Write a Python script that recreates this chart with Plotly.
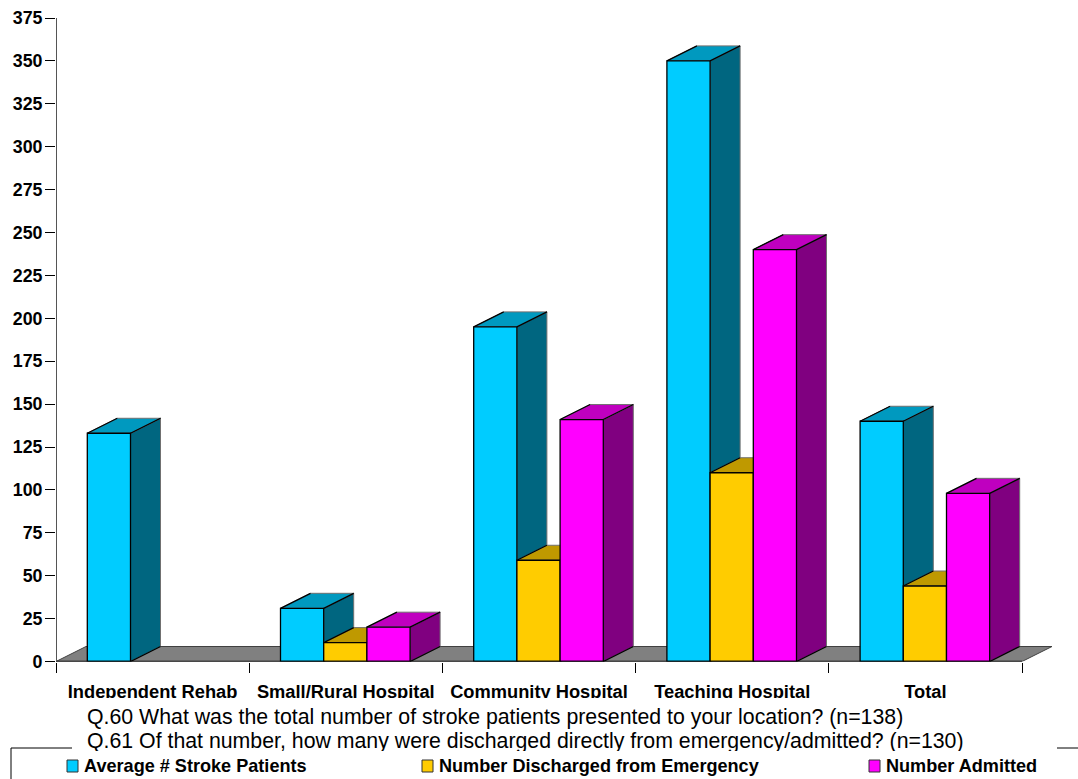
import plotly.graph_objects as go

# Survey results: stroke patients by facility type
categories = ["Independent Rehab", "Small/Rural Hospital", "Community Hospital", "Teaching Hospital", "Total"]
avg_stroke_patients = [133, 31, 195, 350, 140]
discharged_from_er = [None, 11, 59, 110, 44]
admitted = [None, 20, 141, 240, 98]
y_ticks = list(range(0, 376, 25))
series_names = ["Average # Stroke Patients", "Number Discharged from Emergency", "Number Admitted"]
footnotes = [
    "Q.60 What was the total number of stroke patients presented to your location? (n=138)",
    "Q.61 Of that number, how many were discharged directly from emergency/admitted? (n=130)",
]

W, H = 1078, 779
FONT = "Liberation Sans, Arial, sans-serif"

# Axis frame in page pixels
X_LEFT, X_RIGHT = 56, 1052
Y_ZERO, Y_TOP = 661.5, 18
CAT_PX = 193.2

# Bar geometry in axis units
BAR_W = 0.2236
CLUSTER_START = 0.162
DEPTH_X = 30 / CAT_PX
DEPTH_Y = 15 / ((Y_ZERO - Y_TOP) / 375)

palettes = [
    dict(front="#00CCFF", top="#0099BF", side="#006680"),
    dict(front="#FFCC00", top="#BF9900", side="#806600"),
    dict(front="#FF00FF", top="#BF00BF", side="#800080"),
]
series_values = [avg_stroke_patients, discharged_from_er, admitted]
n = len(categories)

fig = go.Figure()


def polygons(rings):
    xs, ys = [], []
    for ring in rings:
        xs += [p[0] for p in ring] + [ring[0][0], None]
        ys += [p[1] for p in ring] + [ring[0][1], None]
    return xs, ys


# Floor slab behind the columns
floor_x, floor_y = polygons([[(0, 0), (n, 0), (n + DEPTH_X, DEPTH_Y), (DEPTH_X, DEPTH_Y)]])
fig.add_trace(go.Scatter(x=floor_x, y=floor_y, mode="lines", fill="toself", fillcolor="#808080",
                         line=dict(color="#404040", width=1), hoverinfo="skip", zorder=1))

for s, (name, vals, pal) in enumerate(zip(series_names, series_values, palettes)):
    z = 2 * s + 2
    sides, tops, edges_x, edges_y = [], [], [], []
    for i, v in enumerate(vals):
        if v is None:
            continue
        x0 = i + CLUSTER_START + s * BAR_W
        x1 = x0 + BAR_W
        sides.append([(x1, 0), (x1 + DEPTH_X, DEPTH_Y), (x1 + DEPTH_X, v + DEPTH_Y), (x1, v)])
        tops.append([(x0, v), (x1, v), (x1 + DEPTH_X, v + DEPTH_Y), (x0 + DEPTH_X, v + DEPTH_Y)])
        edges_x += [x0, x0 + DEPTH_X, None, x1, x1 + DEPTH_X, None, x1, x1 + DEPTH_X, None]
        edges_y += [v, v + DEPTH_Y, None, v, v + DEPTH_Y, None, 0, DEPTH_Y, None]
    for rings, color in ((sides, pal["side"]), (tops, pal["top"])):
        px, py = polygons(rings)
        fig.add_trace(go.Scatter(x=px, y=py, mode="lines", fill="toself", fillcolor=color,
                                 line=dict(color="#707070", width=1), hoverinfo="skip", zorder=z))
    fig.add_trace(go.Scatter(x=edges_x, y=edges_y, mode="lines", line=dict(color="black", width=1.3),
                             hoverinfo="skip", zorder=z))
    fig.add_trace(go.Bar(
        x=[i + 0.5 for i in range(n)], y=vals, name=name, width=BAR_W,
        offset=CLUSTER_START - 0.5 + s * BAR_W,
        marker=dict(color=pal["front"], line=dict(color="black", width=1.3)), zorder=z + 1,
    ))

# Base line along the front of the floor, and the value axis spine
fig.add_trace(go.Scatter(x=[0, n], y=[0, 0], mode="lines", line=dict(color="black", width=1.6),
                         hoverinfo="skip", zorder=10, cliponaxis=False))
fig.add_trace(go.Scatter(x=[0, 0], y=[0, 375], mode="lines", line=dict(color="#555555", width=2),
                         hoverinfo="skip", zorder=10, cliponaxis=False))

# Footnote lines sit in a full-page pixel subplot so the masks below can trim them
fig.add_trace(go.Scatter(x=[87, 87], y=[718.5, 742.5], mode="text", text=footnotes, textposition="middle right",
                         textfont=dict(family=FONT, size=21.3, color="black"), xaxis="x2", yaxis="y2",
                         hoverinfo="skip", cliponaxis=False))

label_font = dict(family=FONT, size=18.3, color="black", weight="bold")
tick_font = dict(family=FONT, size=17.8, color="black", weight="bold")
legend_font = dict(family=FONT, size=18.1, color="black", weight="bold")

shapes = []


def px_rect(x0, y0, x1, y1, **kw):
    return dict(type="rect", xref="paper", yref="paper", x0=x0 / W, x1=x1 / W,
                y0=1 - y0 / H, y1=1 - y1 / H, layer="above", **kw)


def px_line(x0, y0, x1, y1):
    return dict(type="line", xref="paper", yref="paper", x0=x0 / W, x1=x1 / W,
                y0=1 - y0 / H, y1=1 - y1 / H, layer="above", line=dict(color="black", width=1))


# White boxes trimming the category labels and the second footnote
shapes.append(px_rect(0, 698, W, 704, fillcolor="white", line_width=0))
shapes.append(px_rect(0, 751, W, H, fillcolor="white", line_width=0))

# Legend frame, broken where the footnotes pass
shapes += [px_line(11, 748, 72, 748), px_line(1057, 748, W, 748), px_line(11, 748, 11, H)]

annotations = []
legend_x = [67, 422, 869]
for name, x, pal in zip(series_names, legend_x, palettes):
    shapes.append(px_rect(x, 760, x + 11, 772, fillcolor=pal["front"], line=dict(color="#333333", width=1)))
    annotations.append(dict(text=name, xref="paper", yref="paper", x=(x + 15) / W, y=1 - 766 / H,
                            xanchor="left", yanchor="middle", showarrow=False, font=legend_font))

fig.update_layout(
    width=W, height=H, margin=dict(l=0, r=0, t=0, b=0, pad=0, autoexpand=False),
    paper_bgcolor="white", plot_bgcolor="rgba(0,0,0,0)", showlegend=False, barmode="overlay",
    font=dict(family=FONT, color="black"),
    xaxis=dict(domain=[X_LEFT / W, X_RIGHT / W], range=[0, (X_RIGHT - X_LEFT) / CAT_PX],
               tickmode="array", tickvals=[i + 0.5 for i in range(n)], ticktext=categories,
               ticks="", showgrid=False, zeroline=False, showline=False,
               tickfont=label_font, ticklabelstandoff=17,
               minor=dict(tickmode="array", tickvals=list(range(n + 1)), ticks="outside",
                          ticklen=10, tickcolor="black", tickwidth=1, showgrid=False)),
    yaxis=dict(domain=[1 - Y_ZERO / H, 1 - Y_TOP / H], range=[0, 375],
               tickmode="array", tickvals=y_ticks, ticks="outside", ticklen=10, tickcolor="black", tickwidth=1.2,
               showgrid=False, zeroline=False, showline=False,
               tickfont=tick_font, ticklabelstandoff=-1),
    xaxis2=dict(domain=[0, 1], range=[0, W], visible=False, anchor="y2", fixedrange=True),
    yaxis2=dict(domain=[0, 1], range=[H, 0], visible=False, anchor="x2", fixedrange=True),
    shapes=shapes, annotations=annotations,
)

fig.write_html("out.html")
